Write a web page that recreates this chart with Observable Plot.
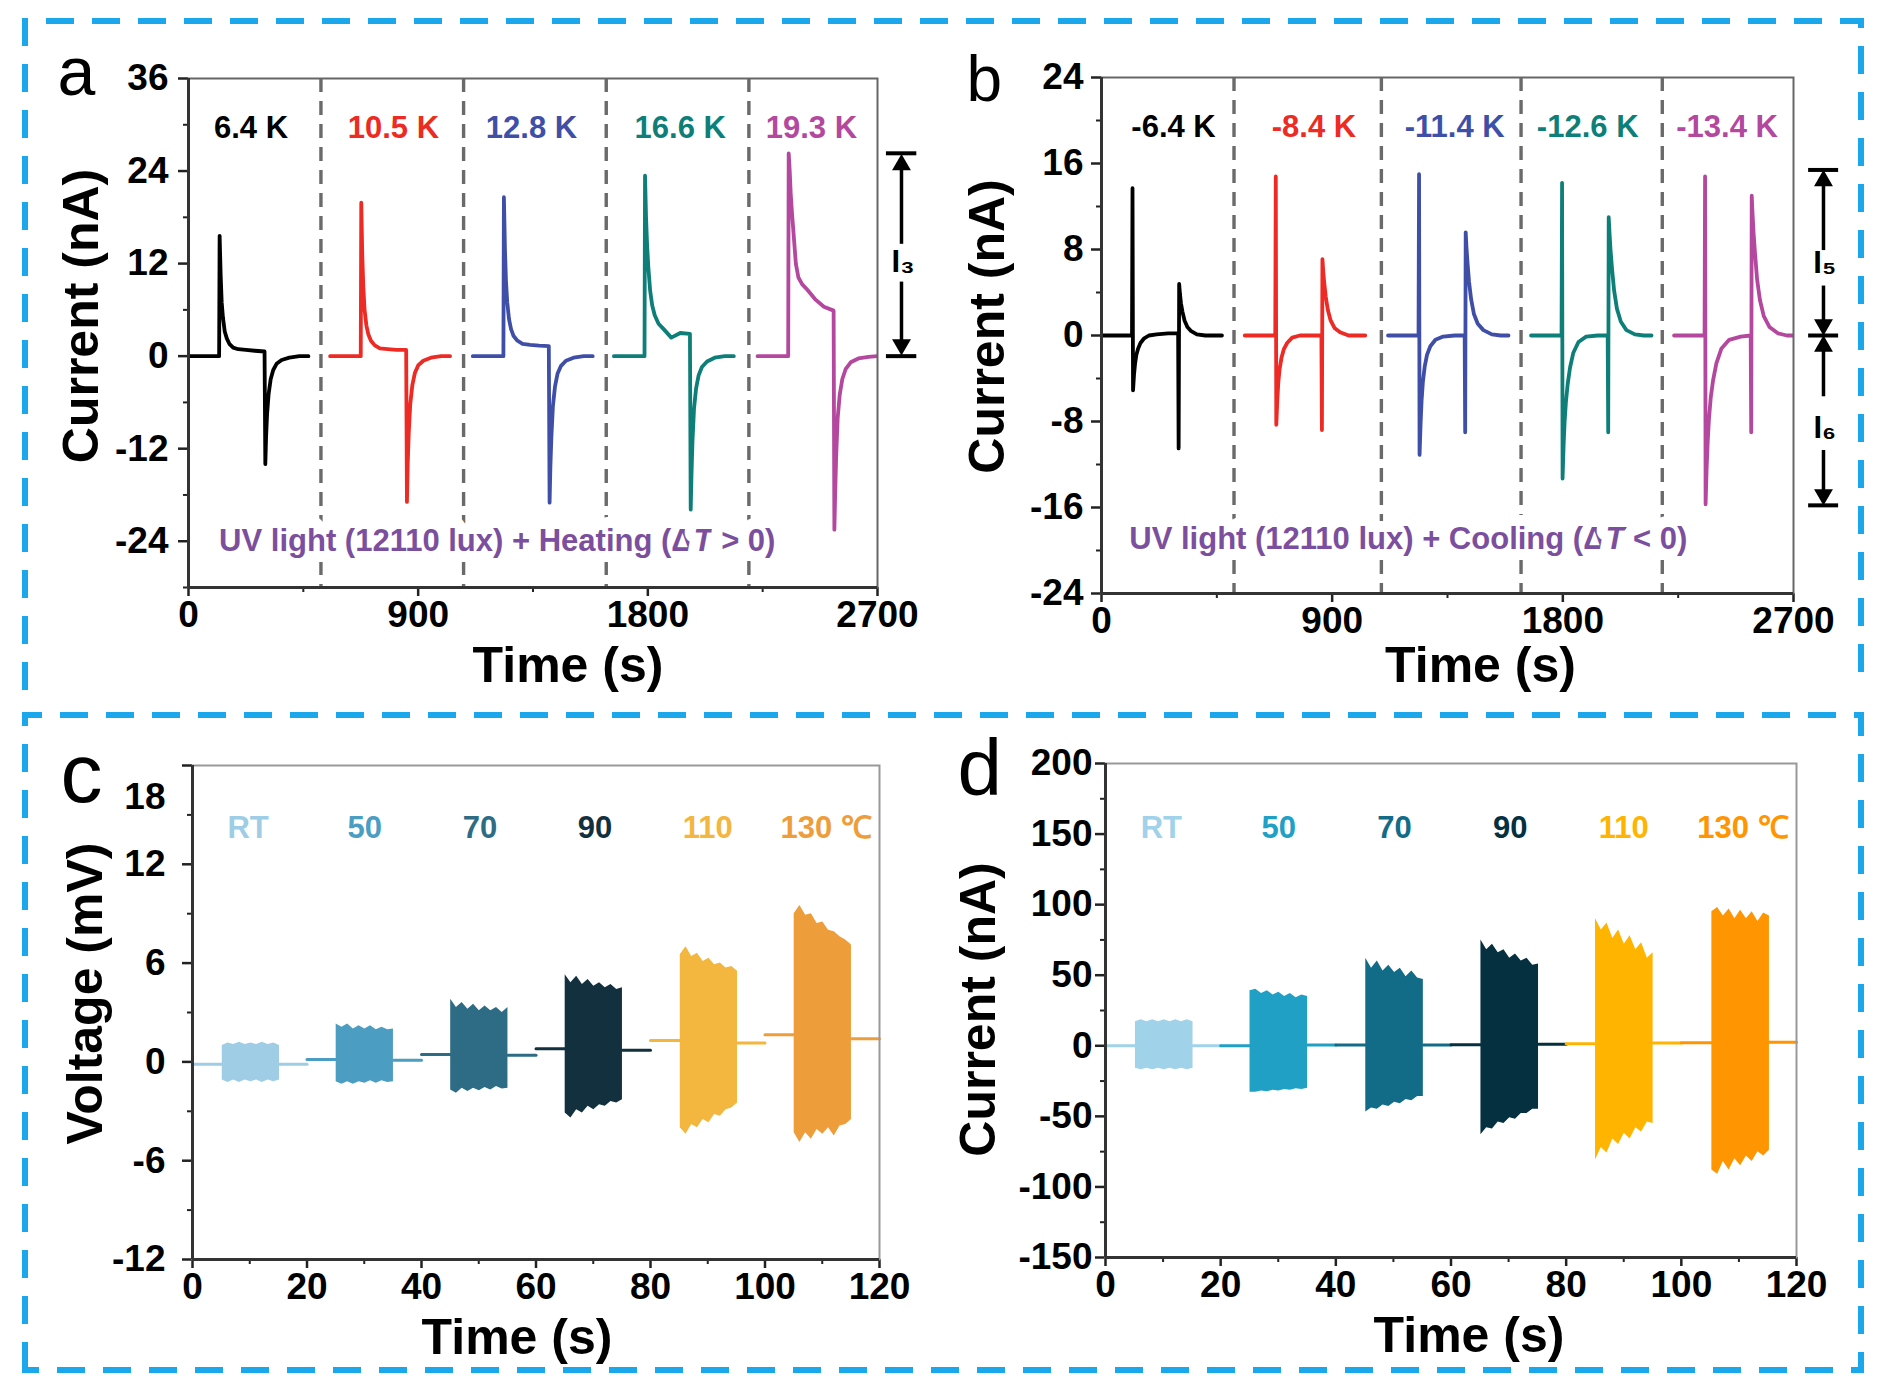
<!DOCTYPE html>
<html><head><meta charset="utf-8">
<script src="https://cdn.jsdelivr.net/npm/d3@7"></script>
<script src="https://cdn.jsdelivr.net/npm/@observablehq/plot@0.6"></script>
<style>
body{margin:0;background:#fff;}
#fig{position:relative;width:1884px;height:1394px;background:#fff;overflow:hidden;}
#fig svg{position:absolute;}
</style></head><body><div id="fig"></div>
<script>
const FONT = "'Liberation Sans', Arial, Helvetica, sans-serif";

// ---------- Panel a (heating) ----------
const seriesColorsAB = ["#000000", "#ee2a24", "#3f4fa8", "#0e7f78", "#b4479e"];
const labelsA = ["6.4 K", "10.5 K", "12.8 K", "16.6 K", "19.3 K"];
const labelTA = [245, 803, 1344, 1927, 2441];
const startsA = [0, 555, 1114, 1667, 2230];
const dividersA = [519, 1078, 1637, 2196];
const localTA = [0,120,122,126,130,135,142,150,160,175,195,225,260,298,301,304,308,314,322,332,345,365,395,435,470];
const aBlack = [0,0,15.6,10.5,7.0,5.0,3.2,2.3,1.6,1.1,0.9,0.8,0.7,0.6,-14.0,-10.5,-7.5,-4.9,-3.0,-1.8,-1.0,-0.5,-0.2,0,0];
const aRed   = [0,0,19.9,13,9,6,4,2.8,2,1.4,1.0,0.9,0.8,0.8,-18.9,-14,-10,-6.2,-3.8,-2.2,-1.2,-0.6,-0.2,0,0];
const aBlue  = [0,0,20.6,14,9.8,7,4.8,3.5,2.6,2,1.6,1.45,1.35,1.3,-19,-14.5,-10.5,-6.5,-4,-2.3,-1.3,-0.6,-0.2,0,0];
const aTeal  = [0,0,23.4,18,14.5,11.5,8.5,6.6,5.3,4.2,3.5,2.4,3.0,2.9,-19.9,-15.5,-11,-6.8,-4.2,-2.5,-1.4,-0.7,-0.2,0,0];
const aMag   = [0,0,26.3,24,21,18.5,15.5,12,10.2,9.3,8.6,7.4,6.4,5.9,-22.5,-18,-13,-8,-5,-3,-1.7,-0.8,-0.3,-0.1,0];
const annotA = "UV light (12110 lux) + Heating (ΔT > 0)";

// ---------- Panel b (cooling) ----------
const labelsB = ["-6.4 K", "-8.4 K", "-11.4 K", "-12.6 K", "-13.4 K"];
const labelTB = [281, 829, 1378, 1897, 2441];
const startsB = [0, 559, 1118, 1676, 2234];
const dividersB = [517, 1092, 1637, 2188];
const localTB = [0,119,121,123,127,131,136,143,152,165,185,215,260,299,301,303,306,310,316,324,335,350,372,405,440,470];
const bBlack = [0,0,13.7,-5.1,-3.6,-2.6,-1.8,-1.2,-0.7,-0.3,0,0.1,0.2,0.2,-10.5,4.8,3.9,3.0,2.2,1.4,0.8,0.4,0.1,0,0,0];
const bRed   = [0,0,14.8,-8.3,-6,-4.3,-3.1,-2.1,-1.3,-0.7,-0.2,0,0,0,-8.8,7.1,6.0,4.9,3.6,2.4,1.4,0.7,0.3,0,0,0];
const bBlue  = [0,0,15.0,-11.1,-8.2,-6,-4.3,-2.9,-1.8,-1,-0.4,-0.1,0,0,-9.0,9.6,8.2,6.8,5.0,3.4,2.0,1.1,0.5,0.1,0,0];
const bTeal  = [0,0,14.2,-13.3,-10.2,-8,-6.2,-4.5,-3.0,-1.6,-0.6,-0.1,0,0,-9.0,11,9.6,8.0,6.2,4.2,2.5,1.3,0.5,0.1,0,0];
const bMag   = [0,0,14.8,-15.7,-12.4,-10,-7.8,-5.8,-4.2,-2.6,-1.2,-0.4,-0.1,0,-9.0,13,11.4,9.6,7.6,5.2,3.3,1.8,0.8,0.2,0,0];
const annotB = "UV light (12110 lux) + Cooling (ΔT < 0)";

// ---------- Panels c, d ----------
const tempLabels = ["RT", "50", "70", "90", "110", "130 ℃"];
const labelTCD = [9.7, 30.1, 50.2, 70.3, 90.0, 110.7];
const colorsC = ["#9fcde6", "#4b9dc2", "#2e6c85", "#13303f", "#f3b63e", "#ee9d3b"];
const colorsD = ["#a0d2ea", "#21a0c6", "#136c87", "#05303f", "#ffb400", "#ff9500"];
const windowsCD = [0, 20, 40, 60, 80, 100, 120];
const blockT = [0,1,2,3,4,5,6,7,8,9,10];
const startsC = [5.2, 25.1, 45.1, 65.1, 85.2, 105.1];
const cTop = [
  [1.0,1.15,1.05,1.2,1.05,1.15,1.05,1.2,1.05,1.15,1.0],
  [2.3,2.1,2.3,2.0,2.2,2.0,2.2,1.95,2.1,1.95,2.0],
  [3.8,3.3,3.6,3.2,3.5,3.1,3.4,3.1,3.3,3.0,3.3],
  [5.3,4.8,5.2,4.7,5.0,4.6,4.8,4.5,4.7,4.4,4.5],
  [6.5,7.0,6.4,6.6,6.1,6.3,5.9,6.0,5.7,5.8,5.5],
  [9.0,9.5,8.9,9.0,8.4,8.5,8.0,7.9,7.6,7.4,7.1]];
const cBot = [
  [-1.1,-1.25,-1.1,-1.25,-1.1,-1.2,-1.1,-1.25,-1.1,-1.2,-1.1],
  [-1.2,-1.35,-1.2,-1.35,-1.2,-1.3,-1.15,-1.3,-1.15,-1.25,-1.2],
  [-1.7,-1.9,-1.6,-1.8,-1.6,-1.75,-1.55,-1.7,-1.5,-1.65,-1.6],
  [-3.1,-3.4,-2.9,-3.1,-2.7,-2.9,-2.6,-2.7,-2.4,-2.5,-2.3],
  [-4.0,-4.4,-3.8,-4.0,-3.5,-3.7,-3.2,-3.3,-2.9,-2.8,-2.5],
  [-4.3,-4.9,-4.3,-4.7,-4.1,-4.4,-4.0,-4.5,-3.9,-3.8,-3.5]];
const cBaseBefore = [-0.15, 0.15, 0.45, 0.8, 1.3, 1.65];
const cBaseAfter  = [-0.15, 0.1, 0.4, 0.7, 1.15, 1.4];

const startsD = [5.2, 25.1, 45.2, 65.2, 85.1, 105.3];
const dTop = [
  [17,18.5,17,18.5,17,18.5,17,18.5,17,18.5,17],
  [39,40,37,39,36,38,35,37,34,36,35],
  [62,55,60,53,57,52,55,49,53,48,47],
  [75,68,72,66,68,62,65,60,62,57,58],
  [90,82,87,76,82,72,78,68,73,62,66],
  [95,98,92,97,90,96,90,95,88,94,92]];
const dBot = [
  [-16,-17,-16,-17,-16,-17,-16,-17,-16,-17,-16],
  [-33,-33,-32,-32.5,-31.5,-32,-31,-31.5,-30.5,-31,-30],
  [-47,-44,-45,-42,-43,-40,-41,-38,-39,-36,-36],
  [-63,-58,-59,-54,-55,-51,-52,-48,-48,-45,-45],
  [-81,-72,-76,-66,-70,-62,-66,-58,-61,-54,-55],
  [-88,-91,-82,-88,-80,-85,-78,-82,-75,-78,-74]];
const dBaseBefore = [0, 0, 0.5, 0.8, 1.5, 2.2];
const dBaseAfter  = [0, 0.5, 0.5, 1.0, 2.0, 2.5];

// ---------- ticks ----------
const xTicksAB = [0, 900, 1800, 2700], xMinorAB = [450, 1350, 2250];
const yTicksA = [-24, -12, 0, 12, 24, 36], yMinorA = [-30, -18, -6, 6, 18, 30];
const yTicksB = [-24, -16, -8, 0, 8, 16, 24], yMinorB = [-20, -12, -4, 4, 12, 20];
const xTicksCD = [0, 20, 40, 60, 80, 100, 120], xMinorCD = [10, 30, 50, 70, 90, 110];
const yTicksC = [-12, -6, 0, 6, 12], yMinorC = [-9, -3, 3, 9, 15];
const yTicksD = [-150, -100, -50, 0, 50, 100, 150, 200], yMinorD = [-125, -75, -25, 25, 75, 125, 175];

// ---------- helpers ----------
const plain = d => String(d);
function pulseTable(starts, localT, series, colors) {
  const rows = [];
  series.forEach((vals, i) => vals.forEach((v, j) => rows.push({t: starts[i] + localT[j], v, s: i, c: colors[i]})));
  return rows;
}
function blockTable(starts, top, bot, colors) {
  const rows = [];
  starts.forEach((s, i) => blockT.forEach((dt, j) => rows.push({t: s + dt, hi: top[i][j], lo: bot[i][j], s: i, c: colors[i]})));
  return rows;
}
function baseTable(starts, before, after, colors) {
  const rows = [];
  starts.forEach((s, i) => {
    rows.push({t: windowsCD[i], v: before[i], z: i + "b", c: colors[i]});
    rows.push({t: s, v: before[i], z: i + "b", c: colors[i]});
    rows.push({t: s + 10, v: after[i], z: i + "a", c: colors[i]});
    rows.push({t: windowsCD[i + 1], v: after[i], z: i + "a", c: colors[i]});
  });
  return rows;
}
function axisMarks(c) {
  const common = {fontFamily: FONT, fontWeight: "bold", fontSize: 37, label: null, stroke: "#222", fill: "#000"};
  return [
    Plot.axisX({...common, ticks: c.xTicks, tickSize: 9, tickPadding: 4, strokeWidth: 2.5, tickFormat: plain}),
    Plot.axisX({...common, ticks: c.xMinor, tickSize: 5, tickFormat: () => "", strokeWidth: 2}),
    Plot.axisY({...common, ticks: c.yTicks, tickSize: 10, tickPadding: c.yPad, strokeWidth: 2.5, tickFormat: plain}),
    Plot.axisY({...common, ticks: c.yMinor, tickSize: 5, tickFormat: () => "", strokeWidth: 2}),
    Plot.frame({stroke: c.frameStroke, strokeWidth: 2}),
    Plot.ruleX([c.xDomain[0]], {stroke: "#333", strokeWidth: 3}),
    Plot.ruleY([c.yDomain[0]], {stroke: "#333", strokeWidth: 3}),
    Plot.text([c.yLabel], {frameAnchor: "left", textAnchor: "middle", lineAnchor: "middle", dx: c.yLabDx, dy: c.yLabDy, rotate: -90, fontSize: 50, fontWeight: "bold", fontFamily: FONT, fill: "#000"}),
    Plot.text([c.xLabel], {frameAnchor: "bottom", textAnchor: "middle", lineAnchor: "middle", dx: c.xLabDx, dy: c.xLabDy, fontSize: 50, fontWeight: "bold", fontFamily: FONT, fill: "#000"}),
    Plot.text([c.letter], {frameAnchor: "top-left", dx: c.letDx, dy: c.letDy, textAnchor: "start", lineAnchor: "bottom", fontSize: c.letSize, fontFamily: FONT, fill: "#000"})
  ];
}
function place(svg, left, top) {
  svg.style.left = left + "px";
  svg.style.top = top + "px";
  svg.style.background = "transparent";
  svg.style.overflow = "visible";
  svg.style.maxWidth = "none";
  d3.select(svg).selectAll("text").filter(function () { return this.textContent.includes("ΔT"); }).each(function () {
    const s = this.textContent;
    const [p1, p2] = s.split("ΔT");
    const el = d3.select(this);
    el.text("");
    el.append("tspan").text(p1 + "Δ");
    el.append("tspan").attr("font-style", "italic").text("T");
    el.append("tspan").text(p2);
  });
  document.getElementById("fig").appendChild(svg);
}
const txt = {fontFamily: FONT, fontWeight: "bold"};

// ---------- Panel a ----------
{
  const data = pulseTable(startsA, localTA, [aBlack, aRed, aBlue, aTeal, aMag], seriesColorsAB);
  const svg = Plot.plot({
    width: 942, height: 697, marginLeft: 188, marginRight: 65, marginTop: 78, marginBottom: 110,
    x: {domain: [0, 2700]}, y: {domain: [-30, 36]}, color: {type: "identity"},
    marks: [
      Plot.ruleX(dividersA, {stroke: "#6a6a6a", strokeWidth: 3.4, strokeDasharray: "14,9"}),
      Plot.line(data, {x: "t", y: "v", z: "s", stroke: "c", strokeWidth: 3.8, clip: true}),
      Plot.text(labelsA, {x: (d, i) => labelTA[i], y: 29.6, fill: (d, i) => seriesColorsAB[i], fontSize: 31, ...txt}),
      Plot.text([annotA], {x: 1210, y: -24, fill: "#7b4f9d", fontSize: 31, stroke: "white", strokeWidth: 22, ...txt}),
      Plot.ruleY([26.3, 0], {x1: 2735, x2: 2854, stroke: "#000", strokeWidth: 4}),
      Plot.ruleX([{y1: 14.5, y2: 25}, {y1: 9.6, y2: 1.3}], {x: 2794, y1: "y1", y2: "y2", stroke: "#000", strokeWidth: 3.5}),
      Plot.dot([{y: 24.8, r: 0}, {y: 1.5, r: 180}], {x: 2794, y: "y", rotate: "r", symbol: "triangle", r: 7, fill: "#000"}),
      Plot.text(["I₃"], {x: 2800, y: 12.2, fontSize: 31, fill: "#000", ...txt}),
      ...axisMarks({xTicks: xTicksAB, xMinor: xMinorAB, yTicks: yTicksA, yMinor: yMinorA, yPad: 10,
        xDomain: [0, 2700], yDomain: [-30, 36], frameStroke: "#666",
        yLabel: "Current (nA)", yLabDx: -107, yLabDy: -17, xLabel: "Time (s)", xLabDx: 35, xLabDy: 78,
        letter: "a", letDx: -131, letDy: 16, letSize: 68})
    ]
  });
  place(svg, 0, 0);
}

// ---------- Panel b ----------
{
  const data = pulseTable(startsB, localTB, [bBlack, bRed, bBlue, bTeal, bMag], seriesColorsAB);
  const svg = Plot.plot({
    width: 942, height: 697, marginLeft: 159, marginRight: 91, marginTop: 77, marginBottom: 104,
    x: {domain: [0, 2700]}, y: {domain: [-24, 24]}, color: {type: "identity"},
    marks: [
      Plot.ruleX(dividersB, {stroke: "#6a6a6a", strokeWidth: 3.4, strokeDasharray: "14,9"}),
      Plot.line(data, {x: "t", y: "v", z: "s", stroke: "c", strokeWidth: 3.8, clip: true}),
      Plot.text(labelsB, {x: (d, i) => labelTB[i], y: 19.4, fill: (d, i) => seriesColorsAB[i], fontSize: 31, ...txt}),
      Plot.text([annotB], {x: 1197, y: -18.9, fill: "#7b4f9d", fontSize: 31, stroke: "white", strokeWidth: 22, ...txt}),
      Plot.ruleY([15.4, 0, -15.8], {x1: 2759, x2: 2876, stroke: "#000", strokeWidth: 4}),
      Plot.ruleX([{y1: 7.9, y2: 14.6}, {y1: 4.6, y2: 0.6}, {y1: -5.7, y2: -0.6}, {y1: -10.7, y2: -15.0}], {x: 2817, y1: "y1", y2: "y2", stroke: "#000", strokeWidth: 3.5}),
      Plot.dot([{y: 14.4, r: 0}, {y: 1.0, r: 180}, {y: -1.0, r: 0}, {y: -14.8, r: 180}], {x: 2817, y: "y", rotate: "r", symbol: "triangle", r: 7, fill: "#000"}),
      Plot.text(["I₅", "I₆"], {x: 2822, y: (d, i) => [6.7, -8.6][i], fontSize: 31, fill: "#000", ...txt}),
      ...axisMarks({xTicks: xTicksAB, xMinor: xMinorAB, yTicks: yTicksB, yMinor: yMinorB, yPad: 8,
        xDomain: [0, 2700], yDomain: [-24, 24], frameStroke: "#666",
        yLabel: "Current (nA)", yLabDx: -114, yLabDy: -9, xLabel: "Time (s)", xLabDx: 33, xLabDy: 72,
        letter: "b", letDx: -135, letDy: 23, letSize: 64})
    ]
  });
  place(svg, 942, 0);
}

// ---------- Panel c ----------
{
  const blocks = blockTable(startsC, cTop, cBot, colorsC);
  const base = baseTable(startsC, cBaseBefore, cBaseAfter, colorsC);
  const svg = Plot.plot({
    width: 942, height: 697, marginLeft: 192, marginRight: 63, marginTop: 68, marginBottom: 135,
    x: {domain: [0, 120]}, y: {domain: [-12, 18]}, color: {type: "identity"},
    marks: [
      Plot.line(base, {x: "t", y: "v", z: "z", stroke: "c", strokeWidth: 3}),
      Plot.areaY(blocks, {x: "t", y1: "lo", y2: "hi", z: "s", fill: "c"}),
      Plot.text(tempLabels, {x: (d, i) => labelTCD[i], y: 14.2, fill: (d, i) => colorsC[i], fontSize: 31, ...txt}),
      Plot.axisY({ticks: [18], tickSize: 10, tickFormat: () => "", strokeWidth: 2.5, label: null, stroke: "#222"}),
      Plot.text(["18"], {frameAnchor: "top-left", dx: -27, dy: 32, textAnchor: "end", lineAnchor: "middle", fontSize: 37, fill: "#000", ...txt}),
      ...axisMarks({xTicks: xTicksCD, xMinor: xMinorCD, yTicks: yTicksC, yMinor: yMinorC, yPad: 17,
        xDomain: [0, 120], yDomain: [-12, 18], frameStroke: "#999",
        yLabel: "Voltage (mV)", yLabDx: -107, yLabDy: -19, xLabel: "Time (s)", xLabDx: -19, xLabDy: 78,
        letter: "c", letDx: -132, letDy: 36, letSize: 84})
    ]
  });
  place(svg, 0, 697);
}

// ---------- Panel d ----------
{
  const blocks = blockTable(startsD, dTop, dBot, colorsD);
  const base = baseTable(startsD, dBaseBefore, dBaseAfter, colorsD);
  const svg = Plot.plot({
    width: 942, height: 697, marginLeft: 163, marginRight: 88, marginTop: 66, marginBottom: 137,
    x: {domain: [0, 120]}, y: {domain: [-150, 200]}, color: {type: "identity"},
    marks: [
      Plot.line(base, {x: "t", y: "v", z: "z", stroke: "c", strokeWidth: 3}),
      Plot.areaY(blocks, {x: "t", y1: "lo", y2: "hi", z: "s", fill: "c"}),
      Plot.text(tempLabels, {x: (d, i) => labelTCD[i], y: 154, fill: (d, i) => colorsD[i], fontSize: 31, ...txt}),
      ...axisMarks({xTicks: xTicksCD, xMinor: xMinorCD, yTicks: yTicksD, yMinor: yMinorD, yPad: 3,
        xDomain: [0, 120], yDomain: [-150, 200], frameStroke: "#999",
        yLabel: "Current (nA)", yLabDx: -127, yLabDy: -1, xLabel: "Time (s)", xLabDx: 18, xLabDy: 78,
        letter: "d", letDx: -148, letDy: 31, letSize: 80})
    ]
  });
  place(svg, 942, 697);
}

// ---------- dashed panel boxes ----------
{
  const ov = d3.select("#fig").append("svg")
    .attr("width", 1884).attr("height", 1394)
    .style("left", "0px").style("top", "0px").style("pointer-events", "none");
  const st = {stroke: "#1aa7ec", "stroke-width": 6, fill: "none", "stroke-dasharray": "28,18"};
  const p1 = ov.append("path").attr("d", "M25,690 V21 H1861 V690");
  const p2 = ov.append("path").attr("d", "M25,1370 V715 H1861 V1370 Z");
  for (const p of [p1, p2]) for (const k in st) p.attr(k, st[k]);
}
</script></body></html>
